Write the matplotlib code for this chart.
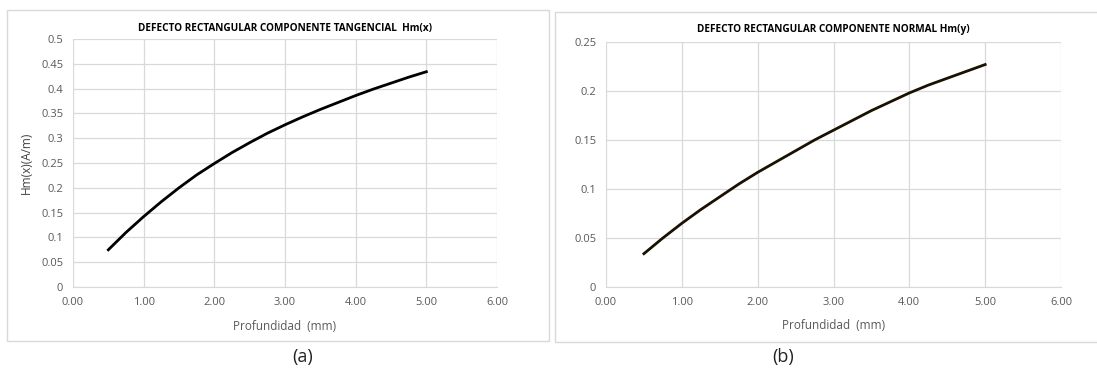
import matplotlib.pyplot as plt
from matplotlib.patches import Rectangle

# Depth (mm) and the two field components read for the rectangular defect
profundidad = [0.5, 0.75, 1.0, 1.25, 1.5, 1.75, 2.0, 2.25, 2.5, 2.75, 3.0,
               3.25, 3.5, 3.75, 4.0, 4.25, 4.5, 4.75, 5.0]
hm_x = [0.075, 0.110, 0.142, 0.172, 0.200, 0.226, 0.249, 0.271, 0.291, 0.310, 0.327,
        0.343, 0.358, 0.372, 0.386, 0.399, 0.411, 0.423, 0.434]
hm_y = [0.034, 0.050, 0.065, 0.079, 0.092, 0.105, 0.117, 0.128, 0.139, 0.150, 0.160,
        0.170, 0.180, 0.189, 0.198, 0.206, 0.213, 0.220, 0.227]

x_ticks = [0, 1, 2, 3, 4, 5, 6]
y_ticks_a = [0, 0.05, 0.1, 0.15, 0.2, 0.25, 0.3, 0.35, 0.4, 0.45, 0.5]
y_ticks_b = [0, 0.05, 0.1, 0.15, 0.2, 0.25]

W, H = 1097, 370
plt.rcParams["font.family"] = ["Open Sans", "DejaVu Sans"]
fig = plt.figure(figsize=(W / 100, H / 100), dpi=100)

grid_col = "#d9d9d9"
text_col = "#595959"


def px_axes(x0, y0, x1, y1):
    # pixel box (top-left origin) -> figure axes
    return fig.add_axes([x0 / W, 1 - y1 / H, (x1 - x0) / W, (y1 - y0) / H])


def frame(x0, y0, x1, y1):
    fig.patches.append(Rectangle((x0 / W, 1 - y1 / H), (x1 - x0) / W, (y1 - y0) / H,
                                 transform=fig.transFigure, fill=False,
                                 edgecolor=grid_col, linewidth=1.0))


def style(ax, yticks, ylabels):
    ax.set_xlim(0, 6)
    ax.set_ylim(yticks[0], yticks[-1])
    ax.set_xticks(x_ticks)
    ax.set_xticklabels([f"{t:.2f}" for t in x_ticks])
    ax.set_yticks(yticks)
    ax.set_yticklabels(ylabels)
    ax.grid(True, color=grid_col, linewidth=0.9)
    ax.set_axisbelow(True)
    for side in ["top", "right", "left"]:
        ax.spines[side].set_visible(False)
    ax.spines["bottom"].set_color(grid_col)
    ax.tick_params(length=0, labelsize=8, colors=text_col, pad=7)


frame(7, 10, 549, 341)
frame(555, 12, 1100, 342)

ax1 = px_axes(73, 39, 497, 287)
ax1.plot(profundidad, hm_x, color="black", linewidth=2.0)
style(ax1, y_ticks_a, ["0", "0.05", "0.1", "0.15", "0.2", "0.25", "0.3", "0.35", "0.4", "0.45", "0.5"])
ax1.set_title("DEFECTO RECTANGULAR COMPONENTE TANGENCIAL  Hm(x)", fontsize=7.2,
              fontweight="bold", pad=6)
ax1.set_xlabel("Profundidad  (mm)", fontsize=8.5, color=text_col, labelpad=9)
ax1.set_ylabel("Hm(x)(A/m)", fontsize=8.5, color="#404040", labelpad=6)

ax2 = px_axes(606, 42, 1061, 287)
ax2.plot(profundidad, hm_y, color="#1a1200", linewidth=2.0)
style(ax2, y_ticks_b, ["0", "0.05", "0.1", "0.15", "0.2", "0.25"])
ax2.set_title("DEFECTO RECTANGULAR COMPONENTE NORMAL Hm(y)", fontsize=7.2,
              fontweight="bold", pad=7)
ax2.set_xlabel("Profundidad  (mm)", fontsize=8.5, color=text_col, labelpad=8)

fig.text(303 / W, 1 - 357 / H, "(a)", fontsize=13, ha="center", va="center", color="#222222")
fig.text(783 / W, 1 - 357 / H, "(b)", fontsize=13, ha="center", va="center", color="#222222")

fig.savefig("out.png", dpi=100)
